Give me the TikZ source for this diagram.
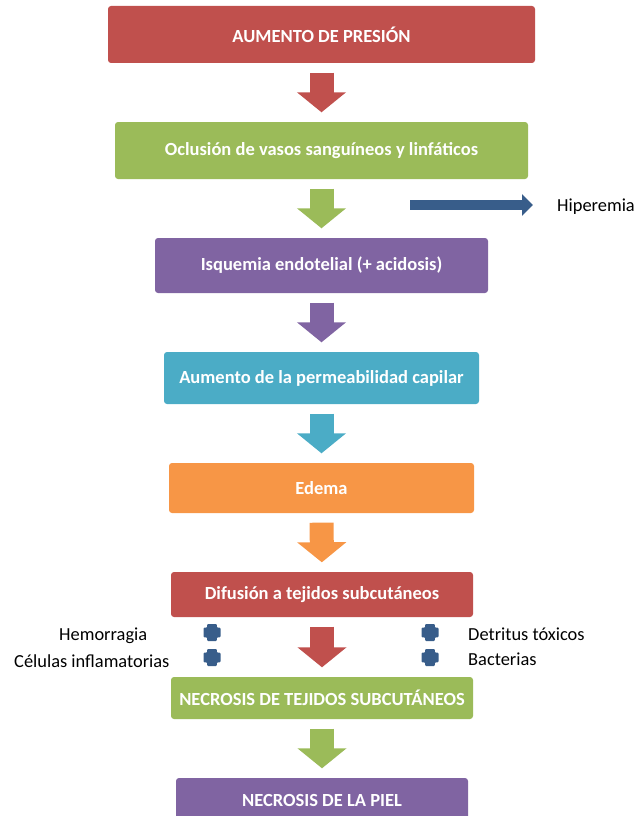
\documentclass[tikz,border=0pt]{standalone}
\usepackage{fontspec}
\setmainfont{Carlito}
\usetikzlibrary{arrows.meta,calc}

\definecolor{cred}{HTML}{C0504D}
\definecolor{cgreen}{HTML}{9BBB59}
\definecolor{cpurple}{HTML}{8064A2}
\definecolor{ccyan}{HTML}{4BACC6}
\definecolor{corange}{HTML}{F79646}
\definecolor{cblue}{HTML}{385D8A}

\tikzset{
  stagebox/.style={fill=#1, rounded corners=3pt, inner sep=0pt, text=white,
    font=\fontsize{18.5}{22}\selectfont\bfseries, align=center},
  flowarrow/.style={draw=#1, line width=24pt,
    -{Triangle[length=20pt,width=48pt]}, shorten <=9.5pt, shorten >=9.5pt},
  sidearrow/.style={draw=cblue, line width=10pt,
    -{Triangle[length=11pt,width=21pt]}},
  note/.style={inner sep=0pt, anchor=base west, font=\fontsize{18.4}{22}\selectfont},
  pics/bullet/.style={code={
    \fill[cblue, rounded corners=1pt] (-4.8,-8.5) -- (4.8,-8.5) -- (4.8,-4.8) -- (8.5,-4.8)
      -- (8.5,4.8) -- (4.8,4.8) -- (4.8,8.5) -- (-4.8,8.5) -- (-4.8,4.8) -- (-8.5,4.8)
      -- (-8.5,-4.8) -- (-4.8,-4.8) -- cycle;}}
}

\begin{document}
\begin{tikzpicture}[x=1pt,y=-1pt]
  \useasboundingbox (0,0) rectangle (635,816);
  \clip (0,0) rectangle (635,816);

  % stages of the cascade
  \node[stagebox=cred, minimum width=427pt, minimum height=57pt] (b1) at (321.5,34.5) {AUMENTO DE PRESIÓN};
  \node[stagebox=cgreen, minimum width=413pt, minimum height=57pt] (b2) at (321.5,150.5) {Oclusión de vasos sanguíneos y linfáticos};
  \node[stagebox=cpurple, minimum width=333pt, minimum height=55pt] (b3) at (321.5,265.5) {Isquemia endotelial (+ acidosis)};
  \node[stagebox=ccyan, minimum width=315pt, minimum height=52pt] (b4) at (321.5,378) {Aumento de la permeabilidad capilar};
  \node[stagebox=corange, minimum width=305pt, minimum height=50pt] (b5) at (321.5,488) {Edema};
  \node[stagebox=cred, minimum width=302pt, minimum height=45pt] (b6) at (322,594.5) {Difusión a tejidos subcutáneos};
  \node[stagebox=cgreen, minimum width=302pt, minimum height=42pt] (b7) at (322,698) {NECROSIS DE TEJIDOS SUBCUTÁNEOS};
  \node[stagebox=cpurple, minimum width=292pt, minimum height=44pt] (b8) at (322,800) {NECROSIS DE LA PIEL};

  % block arrows between stages
  \draw[flowarrow=cred] (b1) -- (b2);
  \draw[flowarrow=cgreen] (b2) -- (b3);
  \draw[flowarrow=cpurple] (b3) -- (b4);
  \draw[flowarrow=ccyan] (b4) -- (b5);
  \draw[flowarrow=corange] (b5) -- (b6);
  \draw[flowarrow=cred] (b6) -- (b7);
  \draw[flowarrow=cgreen] (b7) -- (b8);

  % side effect
  \node[note] (hip) at (557,211) {Hiperemia};
  \coordinate (hiptail) at (410,205);
  \coordinate (hiptip) at ($(hiptail -| hip.west)+(-24,0)$);
  \draw[sidearrow] (hiptail) -- (hiptip);

  % contents spreading into the subcutaneous tissue
  \node[note] (hem) at (59,640) {Hemorragia};
  \node[note] (cel) at (14,667) {Células inflamatorias};
  \node[note] (det) at (468,640) {Detritus tóxicos};
  \node[note] (bac) at (468,665) {Bacterias};
  \pic at (212,632.5) {bullet};
  \pic at (212,657.5) {bullet};
  \pic at (430,632.5) {bullet};
  \pic at (430,657.5) {bullet};
\end{tikzpicture}
\end{document}
